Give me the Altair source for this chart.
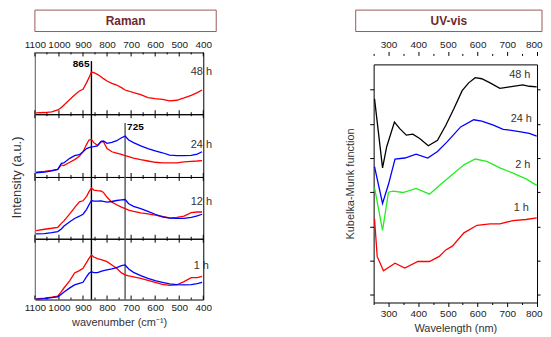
import altair as alt
import pandas as pd

FONT = "Liberation Sans"
BOX_STROKE = "#9a5a5a"
BOX_TEXT = "#6e2a2a"

# ---------------- Raman data ----------------
wn = [1095, 1060, 1030, 1005, 990, 980, 955, 935, 915, 900, 885, 875, 865, 855, 840, 825, 815,
      800, 780, 760, 740, 725, 710, 690, 660, 630, 600, 570, 540, 510, 480, 450, 425, 405]
raman_48h_red = [1.3, 1.7, 2.3, 4.3, 6.7, 9, 14.7, 19.3, 23.3, 25, 31.7, 36.7, 42.3, 41.7, 40, 37.7, 35.7,
                 33.3, 31, 29.3, 26.7, 24.3, 23.3, 21.7, 19.7, 16.7, 15.7, 15, 13.3, 14, 16.3, 19, 21.7, 24.3]
raman_24h_red = [5, 5.7, 6.7, 7.7, 12.3, 11.7, 15, 17.7, 21, 25.7, 33.3, 37.7, 38.3, 35, 32.3, 35.7, 36,
                 29, 25.7, 24.3, 23, 21.7, 20.7, 19.3, 17.7, 16.3, 15, 14.3, 14.3, 14.3, 15.3, 16, 16.3, 16.7]
raman_24h_blue = [4.3, 5, 6.3, 7.7, 14, 14.3, 19, 21.7, 22.7, 25.7, 29, 30, 30.7, 31, 31.7, 36.3, 36.7,
                  34.3, 35.3, 37, 40, 41.7, 37.7, 35, 31.7, 29, 26.7, 24.7, 22.3, 21.7, 21.7, 22, 23.3, 25.7]
raman_12h_red = [8.3, 9.7, 10.7, 11.7, 15.7, 18, 25.3, 31.7, 37.7, 38.7, 43.3, 48, 51.7, 49.7, 49, 48.7, 47.3,
                 42.3, 37.3, 34.7, 32.3, 30.7, 29.3, 28, 26.3, 25.3, 24, 22.7, 21.3, 21.7, 23, 26.7, 27.3, 27.3]
raman_12h_blue = [5, 5.3, 6.3, 7.3, 10, 12.7, 17.3, 20.7, 23, 25, 30, 34.7, 39, 38.3, 38.3, 38.7, 38,
                  37.3, 38, 39, 39.7, 40, 35.7, 33, 30.7, 28, 25, 22.3, 21, 20.7, 20.7, 21.7, 23.3, 25]
raman_1h_red = [0.7, 1.3, 2.3, 3.3, 8, 11.3, 19, 26.7, 29, 31.3, 37.3, 41.3, 44.7, 42.7, 41, 40, 39.3,
                38, 34.7, 31.3, 26.7, 24.7, 23.7, 22.7, 21.3, 19.3, 17.3, 15.3, 14.3, 14.7, 18, 22, 22, 23.3]
raman_1h_blue = [0.3, 1, 2, 2.7, 5.3, 7.3, 11.7, 14.7, 16.3, 17.3, 23, 26.3, 28, 27, 27, 28.3, 29,
                 29.7, 30.7, 32, 34, 34.7, 30.7, 27.3, 24, 21.3, 19, 17.3, 15.7, 15, 14.7, 15, 16, 17.3]
raman_labels = ["48 h", "24 h", "12 h", "1 h"]
raman_label_v = [42.7, 32.7, 37.3, 33.3]
raman_label_wn = 408
raman_major = [1100, 1000, 900, 800, 700, 600, 500, 400]
raman_minor = [1050, 950, 850, 750, 650, 550, 450]
marker_wn = [865, 725]
marker_text = ["865", "725"]

# ---------------- UV-vis data ----------------
uv48_wl = [253, 280, 294, 320, 338, 360, 382, 405, 434, 465, 493, 520, 548, 570, 592, 614, 642, 675, 708, 752, 774, 799]
uv48_km = [5.73, 3.71, 4.33, 5.05, 4.86, 4.67, 4.70, 4.57, 4.36, 4.52, 4.96, 5.44, 5.97, 6.20, 6.35, 6.32, 6.20,
           6.04, 6.08, 6.14, 6.10, 6.08]
uv24_wl = [253, 280, 300, 322, 355, 393, 432, 465, 498, 543, 587, 614, 653, 686, 730, 774, 799]
uv24_km = [3.75, 2.67, 3.23, 3.97, 4.00, 4.11, 4.00, 4.19, 4.48, 4.91, 5.12, 5.08, 4.96, 4.84, 4.79, 4.72, 4.64]
uv2_wl = [253, 280, 300, 316, 349, 393, 438, 476, 515, 554, 592, 631, 675, 719, 763, 799]
uv2_km = [3.13, 1.88, 3.00, 3.03, 2.99, 3.11, 2.94, 3.23, 3.52, 3.80, 3.97, 3.90, 3.71, 3.56, 3.39, 3.20]
uv1_wl = [253, 262, 283, 322, 355, 399, 438, 471, 493, 515, 554, 598, 642, 675, 719, 763, 799]
uv1_km = [2.22, 1.12, 0.70, 0.92, 0.78, 0.97, 0.97, 1.12, 1.31, 1.42, 1.81, 2.03, 2.07, 2.07, 2.17, 2.20, 2.25]
uv_labels = ["48 h", "24 h", "2 h", "1 h"]
uv_label_wl = [742, 747, 752, 747]
uv_label_km = [6.43, 5.13, 3.80, 2.53]
uv_xticks = [250, 300, 350, 400, 450, 500, 550, 600, 650, 700, 750, 800]
uv_yticks = [0, 1, 2, 3, 4, 5, 6]

RED, BLUE, GREEN, BLACK = "#ff0000", "#0000ff", "#22ee22", "#000000"
W_R = 169
panel_dom = [62, 64, 63, 61]
panel_px = [62, 63, 62, 61]


def raman_panel(k, series, xaxis, yaxis, vlines, notes, deco=False):
    h, d = panel_px[k], panel_dom[k]
    xenc = alt.X("wn:Q", scale=alt.Scale(domain=[1100, 400], nice=False, zero=False), axis=xaxis)
    yenc = alt.Y("v:Q", scale=alt.Scale(domain=[0, d], nice=False, zero=False), axis=yaxis)
    layers = []
    for vals, ln in ((raman_major, 4), (raman_minor, 2)):
        tdf = pd.DataFrame({"wn": vals})
        layers.append(alt.Chart(tdf).mark_rule(color="black", strokeWidth=1).encode(
            x=xenc, y=alt.value(0), y2=alt.value(ln)))
        layers.append(alt.Chart(tdf).mark_rule(color="black", strokeWidth=1).encode(
            x=xenc, y=alt.value(h), y2=alt.value(h - ln)))
    for w, top, color in vlines:
        vdf = pd.DataFrame({"wn": [w], "v": [top if top is not None else d], "v2": [0]})
        layers.append(alt.Chart(vdf).mark_rule(color=color, strokeWidth=1.4).encode(
            x=xenc, y=yenc, y2="v2"))
    for vals, color in series:
        df = pd.DataFrame({"wn": wn, "v": vals})
        layers.append(alt.Chart(df).mark_line(color=color, strokeWidth=1.3).encode(x=xenc, y=yenc))
    ldf = pd.DataFrame({"wn": [raman_label_wn], "v": [raman_label_v[k]], "t": [raman_labels[k]]})
    layers.append(alt.Chart(ldf).mark_text(fontSize=11, color="#333", align="center", baseline="middle").encode(
        x=xenc, y=yenc, text="t:N"))
    for w, v, t, align, dx in notes:
        ndf = pd.DataFrame({"wn": [w], "v": [v], "t": [t]})
        layers.append(alt.Chart(ndf).mark_text(fontSize=10, fontWeight="bold", color="black", align=align,
                                               baseline="middle", dx=dx).encode(x=xenc, y=yenc, text="t:N"))
    if deco:
        one = pd.DataFrame({"a": [0]})
        layers.append(alt.Chart(one).mark_rect(fill="white", stroke=BOX_STROKE, strokeWidth=1).encode(
            x=alt.value(0), x2=alt.value(182), y=alt.value(-42.5), y2=alt.value(-21)))
        layers.append(alt.Chart(one).mark_text(text="Raman", fontSize=12, fontWeight="bold", color=BOX_TEXT,
                                               align="center", baseline="middle").encode(
            x=alt.value(91), y=alt.value(-31.5)))
    return alt.layer(*layers).properties(width=W_R, height=h)


def xaxis_r(orient, title=None):
    kw = dict(orient=orient, values=raman_major, ticks=False, domain=False, labelFontSize=10,
              labelColor="#222", labelPadding=3, grid=False, format="d", labelFlush=False)
    if title:
        return alt.Axis(title=title, titleFontSize=11, titleFontWeight="normal", titleColor="#333",
                        titlePadding=4, **kw)
    return alt.Axis(title=None, **kw)


y_plain = alt.Axis(title=None, labels=False, ticks=False, domainColor="#888", grid=False)
y_title = alt.Axis(title="Intensity (a.u.)", titleY=panel_px[1], labels=False, ticks=False, domainColor="#888",
                   grid=False, titleFontSize=13, titleFontWeight="normal", titleColor="#333", titlePadding=11)

p48 = raman_panel(0, [(raman_48h_red, RED)], xaxis_r("top"), y_plain, [(865, 53.3, "black")],
                  [(865, 50, marker_text[0], "right", -2)], deco=True)
p24 = raman_panel(1, [(raman_24h_red, RED), (raman_24h_blue, BLUE)], None, y_title,
                  [(865, None, "black"), (725, 55, "#555")], [(725, 51, marker_text[1], "left", 2)])
p12 = raman_panel(2, [(raman_12h_red, RED), (raman_12h_blue, BLUE)], None, y_plain,
                  [(865, None, "black"), (725, None, "#555")], [])
p1 = raman_panel(3, [(raman_1h_red, RED), (raman_1h_blue, BLUE)], xaxis_r("bottom", "wavenumber (cm⁻¹)"),
                 y_plain, [(865, None, "black"), (725, None, "#555")], [])

left = alt.vconcat(p48, p24, p12, p1, spacing=0, bounds="flush")

# ---------------- UV-vis chart ----------------
W_U, H_U = 164, 239
uxs = alt.Scale(domain=[250, 800], nice=False, zero=False)
uys = alt.Scale(domain=[-0.23, 6.74], nice=False, zero=False)
tick_cond = {"condition": {"test": "datum.value % 100 === 0", "value": 4}, "value": 2}
lab_expr = "datum.value % 100 === 0 ? datum.label : ''"
ax_bottom = alt.Axis(orient="bottom", values=uv_xticks, labelExpr=lab_expr, tickSize=tick_cond, domain=False,
                     grid=False, title="Wavelength (nm)", titleFontSize=11, titleFontWeight="normal",
                     titleColor="#333", labelFontSize=10, labelColor="#222", labelPadding=2, labelFlush=True,
                     labelFlushOffset=5, titlePadding=4, tickColor="black")
ax_top = alt.Axis(orient="top", values=uv_xticks, labelExpr=lab_expr, tickSize=tick_cond, domain=False,
                  grid=False, title=None, labelFontSize=10, labelColor="#222", labelPadding=2, labelFlush=True,
                  labelFlushOffset=5, offset=9, tickColor="black")
ay_left = alt.Axis(orient="left", values=uv_yticks, labels=False, tickSize=4, domain=False, grid=False,
                   title="Kubelka-Munk function", titleFontSize=11, titleFontWeight="normal", titleColor="#333",
                   titlePadding=14, tickColor="black")
ay_right = alt.Axis(orient="right", values=uv_yticks, labels=False, tickSize=3, domain=False, grid=False,
                    title=None, tickColor="black")


def uv_line(wl, km, color, xa, ya):
    df = pd.DataFrame({"wl": wl, "km": km})
    return alt.Chart(df).mark_line(color=color, strokeWidth=1.3).encode(
        x=alt.X("wl:Q", scale=uxs, axis=xa), y=alt.Y("km:Q", scale=uys, axis=ya))


uv_layers = [
    uv_line(uv48_wl, uv48_km, BLACK, ax_bottom, ay_left),
    uv_line(uv24_wl, uv24_km, BLUE, ax_top, ay_right),
    uv_line(uv2_wl, uv2_km, GREEN, None, None),
    uv_line(uv1_wl, uv1_km, RED, None, None),
]
uldf = pd.DataFrame({"wl": uv_label_wl, "km": uv_label_km, "t": uv_labels})
uv_layers.append(alt.Chart(uldf).mark_text(fontSize=11, color="#333", align="center", baseline="middle").encode(
    x=alt.X("wl:Q", scale=uxs, axis=None), y=alt.Y("km:Q", scale=uys, axis=None), text="t:N"))
one = pd.DataFrame({"a": [0]})
uv_layers.append(alt.Chart(one).mark_rect(fill="white", stroke=BOX_STROKE, strokeWidth=1).encode(
    x=alt.value(-18), x2=alt.value(169), y=alt.value(-54.5), y2=alt.value(-33)))
uv_layers.append(alt.Chart(one).mark_text(text="UV-vis", fontSize=12, fontWeight="bold", color=BOX_TEXT,
                                          align="center", baseline="middle").encode(
    x=alt.value(75.5), y=alt.value(-43.5)))

uv = alt.layer(*uv_layers).resolve_axis(x="independent", y="independent").properties(width=W_U, height=H_U)

# invisible spacer so the UV frame sits 12 px lower than the first Raman panel
spacer = alt.Chart(one).mark_point(opacity=0).encode(x=alt.value(0), y=alt.value(0)).properties(
    width=W_U, height=12, view=alt.ViewBackground(stroke="transparent"))
right = alt.vconcat(spacer, uv, spacing=0, bounds="flush")

chart = alt.hconcat(left, right, spacing=127).properties(
    padding={"left": 2, "top": 0, "right": 0, "bottom": 0}
).configure(font=FONT).configure_view(stroke="black", strokeWidth=1)

chart.save("out.html", embed_options={"renderer": "svg", "actions": False})
